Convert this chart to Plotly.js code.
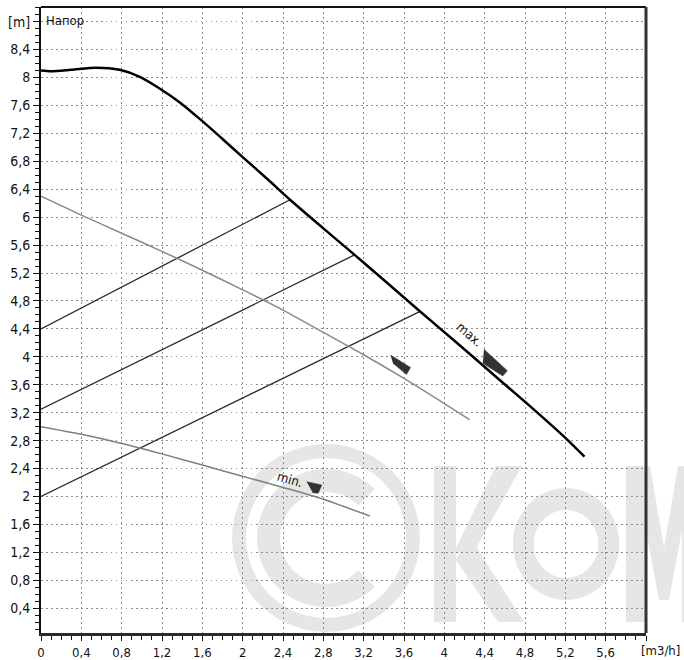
<!DOCTYPE html>
<html>
<head>
<meta charset="utf-8">
<script src="https://cdn.plot.ly/plotly-3.0.1.min.js"></script>
<style>html,body{margin:0;padding:0;background:#fff}#chart{width:684px;height:660px}</style>
</head>
<body>
<div id="chart"></div>
<script>
// ---- data (flow Q in m3/h, head H in m) ----
const maxQ = [0, 0.1, 0.3, 0.55, 0.78, 0.98, 1.18, 1.38, 1.58, 1.8, 2.0, 2.25, 2.47, 2.8, 3.11, 3.4, 3.76, 4.1, 4.5, 4.9, 5.2, 5.39];
const maxH = [8.10, 8.09, 8.11, 8.14, 8.11, 8.01, 7.84, 7.64, 7.40, 7.12, 6.86, 6.54, 6.25, 5.84, 5.46, 5.10, 4.65, 4.23, 3.73, 3.23, 2.84, 2.57];

const midQ = [0, 0.4, 0.8, 1.2, 1.6, 2.0, 2.4, 2.8, 3.2, 3.6, 4.0, 4.25];
const midH = [6.30, 6.03, 5.77, 5.51, 5.24, 4.96, 4.67, 4.35, 4.03, 3.69, 3.33, 3.10];

const minQ = [0, 0.4, 0.8, 1.2, 1.6, 2.0, 2.4, 2.8, 3.26];
const minH = [3.00, 2.89, 2.76, 2.61, 2.45, 2.29, 2.13, 1.96, 1.72];

const op1Q = [0, 2.47], op1H = [4.40, 6.25];
const op2Q = [0, 3.11], op2H = [3.25, 5.46];
const op3Q = [0, 3.76], op3H = [2.00, 4.65];

// direction markers (polygons in data units)
const arrowMaxQ = [4.393, 4.625, 4.579, 4.381], arrowMaxH = [4.109, 3.802, 3.726, 3.908];
const arrowMidQ = [3.466, 3.665, 3.625, 3.491], arrowMidH = [4.027, 3.848, 3.748, 3.908];
const arrowMinQ = [2.635, 2.784, 2.750, 2.695], arrowMinH = [2.212, 2.165, 2.046, 2.054];

const xTickVals = [0, 0.4, 0.8, 1.2, 1.6, 2, 2.4, 2.8, 3.2, 3.6, 4, 4.4, 4.8, 5.2, 5.6, 6];
const xTickText = ['0', '0,4', '0,8', '1,2', '1,6', '2', '2,4', '2,8', '3,2', '3,6', '4', '4,4', '4,8', '5,2', '5,6', ''];
const xUnit = '[m3/h]';
const yTickVals = [0.4, 0.8, 1.2, 1.6, 2, 2.4, 2.8, 3.2, 3.6, 4, 4.4, 4.8, 5.2, 5.6, 6, 6.4, 6.8, 7.2, 7.6, 8, 8.4, 8.8];
const yTickText = ['0,4', '0,8', '1,2', '1,6', '2', '2,4', '2,8', '3,2', '3,6', '4', '4,4', '4,8', '5,2', '5,6', '6', '6,4', '6,8', '7,2', '7,6', '8', '8,4', '[m]'];

const FONT = 'DejaVu Sans Condensed, DejaVu Sans, sans-serif';

// ---- watermark geometry (pixel positions -> paper) ----
const L = 41, R = 646, T = 7, B = 633;
const px = v => (v - L) / (R - L);
const py = v => (B - v) / (B - T);
const WM = '#e6e6e6';
function poly(pts) {
  return 'M' + pts.map(p => px(p[0]).toFixed(4) + ',' + py(p[1]).toFixed(4)).join(' L') + ' Z';
}
function arcPath(cx, cy, r1, r2, a0, a1, sx) {
  sx = sx || 1;
  const pts = [];
  const n = 48;
  for (let i = 0; i <= n; i++) { const a = (a0 + (a1 - a0) * i / n) * Math.PI / 180; pts.push([cx + sx * r2 * Math.cos(a), cy - r2 * Math.sin(a)]); }
  for (let i = n; i >= 0; i--) { const a = (a0 + (a1 - a0) * i / n) * Math.PI / 180; pts.push([cx + sx * r1 * Math.cos(a), cy - r1 * Math.sin(a)]); }
  return poly(pts);
}
const shapes = [
  {type: 'path', path: arcPath(326, 538, 80, 94, 0, 360), fillcolor: WM, line: {width: 0}},
  {type: 'path', path: arcPath(326, 538, 46, 69, 45, 315), fillcolor: WM, line: {width: 0}},
  {type: 'path', path: poly([[434,466],[456,466],[456,622],[434,622]]), fillcolor: WM, line: {width: 0}},
  {type: 'path', path: poly([[454,552],[496,466],[522,466],[474,552]]), fillcolor: WM, line: {width: 0}},
  {type: 'path', path: poly([[468,534],[524,622],[498,622],[456,560]]), fillcolor: WM, line: {width: 0}},
  {type: 'path', path: arcPath(566, 544, 34, 56, 0, 360, 0.95), fillcolor: WM, line: {width: 0}},
  {type: 'path', path: poly([[626,622],[626,466],[650,466],[664,548],[678,466],[702,466],[702,622],[682,622],[682,530],[669,600],[659,600],[646,530],[646,622]]), fillcolor: WM, line: {width: 0}},
];
shapes.forEach(s => { s.xref = 'paper'; s.yref = 'paper'; s.layer = 'below'; });
// frame: top and right border
shapes.push({type: 'line', xref: 'paper', yref: 'paper', x0: 0, x1: 1, y0: 1, y1: 1, line: {color: '#111', width: 2}, layer: 'above'});
shapes.push({type: 'line', xref: 'paper', yref: 'paper', x0: 1, x1: 1, y0: 0, y1: 1, line: {color: '#333', width: 3}, layer: 'above'});

const traces = [
  {x: op1Q, y: op1H, mode: 'lines', line: {color: '#3a2226', width: 1.3}},
  {x: op2Q, y: op2H, mode: 'lines', line: {color: '#3a2226', width: 1.3}},
  {x: op3Q, y: op3H, mode: 'lines', line: {color: '#3a2226', width: 1.3}},
  {x: midQ, y: midH, mode: 'lines', line: {color: '#8a8a8a', width: 1.5, shape: 'spline', smoothing: 0.8}},
  {x: minQ, y: minH, mode: 'lines', line: {color: '#808080', width: 1.5, shape: 'spline', smoothing: 0.8}},
  {x: maxQ, y: maxH, mode: 'lines', line: {color: '#000', width: 2.5, shape: 'spline', smoothing: 0.8}},
  {x: arrowMaxQ, y: arrowMaxH, mode: 'lines', fill: 'toself', fillcolor: '#333', line: {color: '#333', width: 0.5}},
  {x: arrowMidQ, y: arrowMidH, mode: 'lines', fill: 'toself', fillcolor: '#333', line: {color: '#333', width: 0.5}},
  {x: arrowMinQ, y: arrowMinH, mode: 'lines', fill: 'toself', fillcolor: '#333', line: {color: '#333', width: 0.5}},
];
traces.forEach(t => { t.hoverinfo = 'skip'; t.showlegend = false; });

const axisCommon = {
  showline: true, linecolor: '#111', linewidth: 2, mirror: false,
  ticks: 'outside', ticklen: 6, tickwidth: 1, tickcolor: '#111',
  tickmode: 'array', showgrid: true, gridcolor: '#8c8c8c', griddash: '1.5px,3.5px', gridwidth: 1,
  zeroline: false, tickfont: {family: FONT, size: 14, color: '#111'},
  minor: {dtick: 0.1, tick0: 0, ticks: 'outside', ticklen: 4, tickwidth: 1, tickcolor: '#111', showgrid: false},
  fixedrange: true,
};

const layout = {
  width: 684, height: 660,
  margin: {l: L, r: 684 - R, t: T, b: 660 - B, pad: 0},
  paper_bgcolor: '#fff', plot_bgcolor: '#fff',
  showlegend: false,
  xaxis: Object.assign({}, axisCommon, {range: [0, 6], tickvals: xTickVals, ticktext: xTickText, ticklabelstandoff: 0, ticklen: 5, linewidth: 3, linecolor: '#2a2a2a', tickfont: {family: FONT, size: 13, color: '#111'}}),
  yaxis: Object.assign({}, axisCommon, {range: [0.045, 9.01], tickvals: yTickVals, ticktext: yTickText, ticklabelstandoff: 0}),
  shapes: shapes,
  annotations: [
    {xref: 'paper', yref: 'paper', x: 0.005, y: 0.994, xanchor: 'left', yanchor: 'top', text: 'Напор', showarrow: false, font: {family: FONT, size: 13, color: '#111'}},
    {xref: 'x', yref: 'y', x: 4.25, y: 4.32, text: 'max.', textangle: 41, showarrow: false, font: {family: FONT, size: 13, color: '#111'}},
    {xref: 'x', yref: 'y', x: 2.47, y: 2.24, text: 'min.', textangle: 16, showarrow: false, font: {family: FONT, size: 13, color: '#111'}},
    {xref: 'paper', yref: 'paper', x: px(681), y: py(650), xanchor: 'right', yanchor: 'middle', text: xUnit, showarrow: false, borderpad: 0, font: {family: FONT, size: 13, color: '#111'}},
  ],
};

Plotly.newPlot('chart', traces, layout, {displayModeBar: false, staticPlot: true});
</script>
</body>
</html>
